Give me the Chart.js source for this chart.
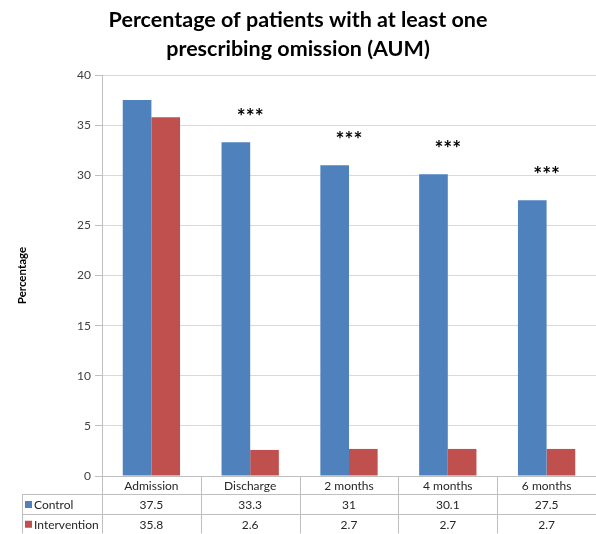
<!DOCTYPE html>
<html>
<head>
<meta charset="utf-8">
<script src="https://cdn.jsdelivr.net/npm/chart.js@4/dist/chart.umd.min.js"></script>
<style>
  html, body { margin: 0; padding: 0; background: #fff; }
  #wrap { width: 596px; height: 534px; position: relative; }
</style>
</head>
<body>
<div id="wrap"><canvas id="chart"></canvas></div>
<script>
const categories = ['Admission', 'Discharge', '2 months', '4 months', '6 months'];
const controlValues = [37.5, 33.3, 31, 30.1, 27.5];
const interventionValues = [35.8, 2.6, 2.7, 2.7, 2.7];
const significance = ['', '***', '***', '***', '***'];
const yTicks = [0, 5, 10, 15, 20, 25, 30, 35, 40];

const BLUE = '#4F81BD';
const RED = '#C0504D';
const LINE = '#bfbfbf';
const FONT = 'Lato, "Liberation Sans", sans-serif';

// draws the data table under the plot and the *** marks
const tablePlugin = {
  id: 'dataTable',
  afterDraw(chart) {
    const { ctx, chartArea, scales } = chart;
    const x = scales.x, y = scales.y;
    const left = chartArea.left, right = chartArea.right, top0 = chartArea.bottom;
    const colW = (right - left) / categories.length;
    const rows = [top0, top0 + 18, top0 + 38, top0 + 57.5];
    const keyLeft = 22;

    ctx.save();
    ctx.strokeStyle = LINE;
    ctx.lineWidth = 1;
    ctx.beginPath();
    ctx.moveTo(left, rows[0] + 0.5); ctx.lineTo(right, rows[0] + 0.5);
    for (let r = 1; r < rows.length; r++) {
      ctx.moveTo(keyLeft, Math.round(rows[r]) + 0.5); ctx.lineTo(right, Math.round(rows[r]) + 0.5);
    }
    ctx.moveTo(keyLeft + 0.5, rows[1]); ctx.lineTo(keyLeft + 0.5, rows[3]);
    for (let i = 0; i <= categories.length; i++) {
      const xx = Math.round(left + i * colW) + 0.5;
      ctx.moveTo(xx, rows[0]); ctx.lineTo(xx, rows[3]);
    }
    ctx.stroke();

    ctx.font = '12px ' + FONT;
    ctx.fillStyle = '#262626';
    ctx.textAlign = 'center';
    ctx.textBaseline = 'middle';
    categories.forEach((c, i) => {
      const cx = x.getPixelForValue(i);
      ctx.fillText(c, cx, (rows[0] + rows[1]) / 2 + 1);
      ctx.fillText(String(controlValues[i]), cx, (rows[1] + rows[2]) / 2 + 1);
      ctx.fillText(String(interventionValues[i]), cx, (rows[2] + rows[3]) / 2 + 1);
    });

    const series = [['Control', BLUE], ['Intervention', RED]];
    ctx.textAlign = 'left';
    series.forEach((s, k) => {
      const cy = (rows[k + 1] + rows[k + 2]) / 2;
      ctx.fillStyle = s[1];
      ctx.fillRect(keyLeft + 3, cy - 3, 7, 7);
      ctx.fillStyle = '#262626';
      ctx.fillText(s[0], keyLeft + 12, cy + 1);
    });

    ctx.font = 'bold 21px ' + FONT;
    ctx.fillStyle = '#000';
    ctx.textAlign = 'center';
    significance.forEach((s, i) => {
      if (!s) return;
      ctx.fillText(s, x.getPixelForValue(i), y.getPixelForValue(controlValues[i] + 2.5));
    });
    ctx.restore();
  }
};

new Chart(document.getElementById('chart'), {
  type: 'bar',
  data: {
    labels: categories,
    datasets: [
      { label: 'Control', data: controlValues, backgroundColor: BLUE, borderWidth: 0 },
      { label: 'Intervention', data: interventionValues, backgroundColor: RED, borderWidth: 0 }
    ]
  },
  options: {
    responsive: true,
    maintainAspectRatio: false,
    animation: false,
    layout: { padding: { left: 0, right: 0, top: 0, bottom: 58 } },
    datasets: { bar: { categoryPercentage: 0.58, barPercentage: 1 } },
    scales: {
      x: { display: false },
      y: {
        min: 0, max: 40,
        afterBuildTicks(scale) { scale.ticks = yTicks.map(v => ({ value: v })); },
        afterFit(scale) { scale.width = 102; },
        ticks: { color: '#404040', font: { family: FONT, size: 12 }, padding: 4 },
        grid: { color: '#d9d9d9', tickLength: 7, tickColor: '#bfbfbf' },
        border: { color: '#bfbfbf' },
        title: {
          display: true, text: 'Percentage', color: '#000',
          font: { family: FONT, size: 11.5, weight: 'bold' }, padding: { top: 15, bottom: 0 }
        }
      }
    },
    plugins: {
      legend: { display: false },
      tooltip: { enabled: false },
      title: {
        display: true,
        text: ['Percentage of patients with at least one', 'prescribing omission (AUM)'],
        color: '#000',
        font: { family: FONT, size: 21.5, weight: 'bold', lineHeight: 1.35 },
        padding: { top: 6, bottom: 11 }
      }
    }
  },
  plugins: [tablePlugin]
});
</script>
</body>
</html>
